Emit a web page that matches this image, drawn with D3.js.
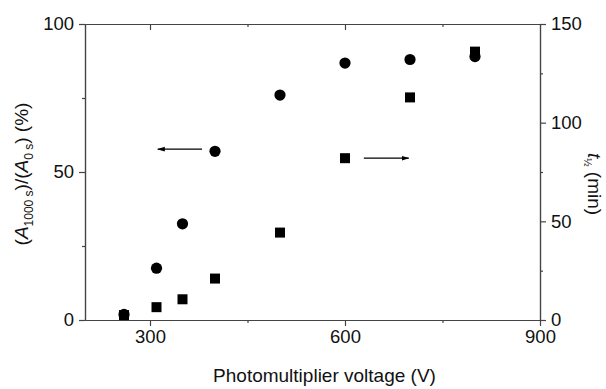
<!DOCTYPE html>
<html lang="en">
<head>
<meta charset="UTF-8">
<title>Photomultiplier voltage</title>
<script src="https://d3js.org/d3.v7.min.js"></script>
<style>
  body { margin: 0; background: #fff; }
  svg { display: block; font-family: 'Liberation Sans', Arial, sans-serif; }
  .axis path, .axis line { stroke: #444; stroke-width: 1.2; }
  .axis text { font-size: 18.5px; fill: #111; font-family: 'Liberation Sans', Arial, sans-serif; }
</style>
</head>
<body>
<svg id="chart" width="606" height="389"></svg>
<script>
// photomultiplier voltage (V)
const voltage = [260, 310, 350, 400, 500, 600, 700, 800];
// (A1000 s)/(A0 s) in %, left axis, circles
const ratioPct = [1.9, 17.5, 32.5, 57, 76, 86.8, 88, 89];
// t1/2 in min, right axis, squares
const halfLife = [2.5, 6.5, 10.5, 21, 44.3, 82, 112.8, 136];

const xMajor = [300, 600, 900];
const xMinor = [450, 750];
const leftMajor = [0, 50, 100];
const leftMinor = [25, 75];
const rightMajor = [0, 50, 100, 150];
const rightMinor = [25, 75, 125];

const svg = d3.select('#chart');
const mLeft = 85, mRight = 540, mTop = 24, mBottom = 320;

const x = d3.scaleLinear().domain([200, 900]).range([mLeft, mRight]);
const yL = d3.scaleLinear().domain([0, 100]).range([mBottom, mTop]);
const yR = d3.scaleLinear().domain([0, 150]).range([mBottom, mTop]);

// minor ticks first, then major axes on top
svg.append('g').attr('class', 'axis').attr('transform', `translate(0,${mBottom})`)
  .call(d3.axisBottom(x).tickValues(xMinor).tickSize(3).tickSizeOuter(0).tickFormat(''));
svg.append('g').attr('class', 'axis').attr('transform', `translate(0,${mBottom})`)
  .call(d3.axisBottom(x).tickValues(xMajor).tickSize(6).tickSizeOuter(0).tickPadding(4).tickFormat(d3.format('d')));

svg.append('g').attr('class', 'axis').attr('transform', `translate(0,${mTop})`)
  .call(d3.axisTop(x).tickValues(xMinor).tickSize(-3).tickSizeOuter(0).tickFormat(''));
svg.append('g').attr('class', 'axis').attr('transform', `translate(0,${mTop})`)
  .call(d3.axisTop(x).tickValues([300, 600]).tickSize(-6).tickSizeOuter(0).tickFormat(''));

svg.append('g').attr('class', 'axis').attr('transform', `translate(${mLeft},0)`)
  .call(d3.axisLeft(yL).tickValues(leftMinor).tickSize(3).tickSizeOuter(0).tickFormat(''));
svg.append('g').attr('class', 'axis').attr('transform', `translate(${mLeft},0)`)
  .call(d3.axisLeft(yL).tickValues(leftMajor).tickSize(6).tickSizeOuter(0).tickPadding(5));

svg.append('g').attr('class', 'axis').attr('transform', `translate(${mRight},0)`)
  .call(d3.axisRight(yR).tickValues(rightMinor).tickSize(3).tickSizeOuter(0).tickFormat(''));
svg.append('g').attr('class', 'axis').attr('transform', `translate(${mRight},0)`)
  .call(d3.axisRight(yR).tickValues(rightMajor).tickSize(6).tickSizeOuter(0).tickPadding(5));

// squares (right axis)
const sq = 10;
svg.append('g').selectAll('rect')
  .data(voltage.map((v, i) => ({ v, t: halfLife[i] })))
  .enter().append('rect')
  .attr('x', d => x(d.v) - sq / 2)
  .attr('y', d => yR(d.t) - sq / 2)
  .attr('width', sq).attr('height', sq)
  .attr('fill', '#000');

// circles (left axis)
svg.append('g').selectAll('circle')
  .data(voltage.map((v, i) => ({ v, p: ratioPct[i] })))
  .enter().append('circle')
  .attr('cx', d => x(d.v))
  .attr('cy', d => yL(d.p))
  .attr('r', 5.6)
  .attr('fill', '#000');

// arrows
const defs = svg.append('defs');
defs.append('marker').attr('id', 'head')
  .attr('viewBox', '0 0 10 10').attr('refX', 9).attr('refY', 5)
  .attr('markerWidth', 6).attr('markerHeight', 6).attr('orient', 'auto')
  .append('path').attr('d', 'M0,2 L10,5 L0,8 Z').attr('fill', '#000');

svg.append('line')
  .attr('x1', x(380)).attr('x2', x(312))
  .attr('y1', yL(57.7)).attr('y2', yL(57.7))
  .attr('stroke', '#000').attr('stroke-width', 1.3).attr('marker-end', 'url(#head)');
svg.append('line')
  .attr('x1', x(629)).attr('x2', x(698))
  .attr('y1', yR(82)).attr('y2', yR(82))
  .attr('stroke', '#000').attr('stroke-width', 1.3).attr('marker-end', 'url(#head)');

// axis titles
svg.append('text')
  .attr('x', (mLeft + mRight) / 2 + 12).attr('y', 382)
  .attr('text-anchor', 'middle').attr('font-size', 19).attr('fill', '#111')
  .text('Photomultiplier voltage (V)');

const lt = svg.append('text')
  .attr('transform', 'translate(28,174) rotate(-90)')
  .attr('text-anchor', 'middle').attr('font-size', 19).attr('fill', '#111');
lt.append('tspan').text('(');
lt.append('tspan').attr('font-style', 'italic').text('A');
lt.append('tspan').attr('font-size', 12).attr('dy', 5).text('1000 s');
lt.append('tspan').attr('dy', -5).text(')/(');
lt.append('tspan').attr('font-style', 'italic').text('A');
lt.append('tspan').attr('font-size', 12).attr('dy', 5).text('0 s');
lt.append('tspan').attr('dy', -5).text(') (%)');

const rt = svg.append('text')
  .attr('transform', 'translate(588,184) rotate(90)')
  .attr('text-anchor', 'middle').attr('font-size', 19).attr('fill', '#111');
rt.append('tspan').attr('font-style', 'italic').text('t');
rt.append('tspan').attr('font-size', 10).attr('dy', 4).text('½');
rt.append('tspan').attr('dy', -4).text(' (min)');
</script>
</body>
</html>
